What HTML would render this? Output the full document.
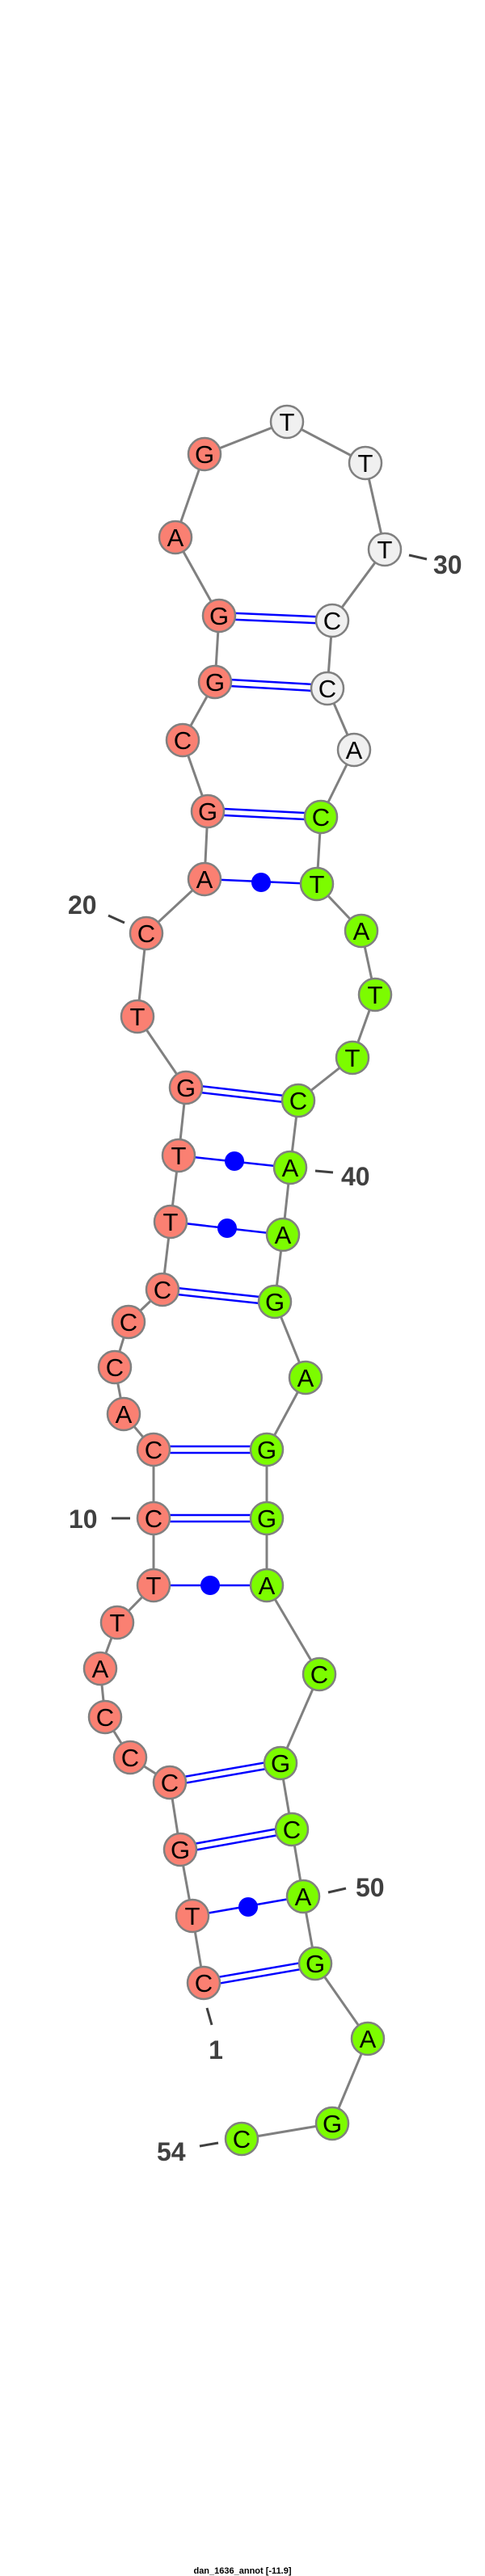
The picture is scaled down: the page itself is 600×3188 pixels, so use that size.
<!DOCTYPE html>
<html><head><meta charset="utf-8"><style>
html,body{margin:0;padding:0;background:#fff;}
svg{display:block;}
.n{stroke:#808080;stroke-width:2.5;}
.s{fill:#fa8072;}.w{fill:#f0f0f0;}.g{fill:#7cfc00;}
.t{font-family:"Liberation Sans",sans-serif;font-size:31px;text-anchor:middle;fill:#000;}
.l{font-family:"Liberation Sans",sans-serif;font-size:32px;font-weight:bold;fill:#404040;}
.bp{stroke:#0000ff;stroke-width:2.5;}
.tk{stroke:#404040;stroke-width:3;}
</style></head><body>
<svg width="600" height="3188" viewBox="0 0 600 3188" xmlns="http://www.w3.org/2000/svg">
<polyline fill="none" stroke="#808080" stroke-width="3" points="252,2454 238,2371 223,2289 210,2206 161,2175 130,2125 124,2065 145,2008 190,1962 190,1879 190,1794 153,1750 142,1692 159,1636 201,1596 211,1512 221,1430 230,1346 170,1258 181,1155 253,1088 257,1004 226,916 266,844 271,762 217,665 253,562 355,522 452,573 476,680 411,768 405,852 438,928 397,1011 392,1094 447,1152 464,1231 436,1309 369,1362 359,1445 350,1528 340,1611 378,1705 330,1794 330,1879 330,1962 395,2072 347,2182 361,2264 375,2347 390,2430 455,2523 411,2628 299,2647"/>
<g class="bp">
<line x1="252" y1="2450" x2="390" y2="2426"/><line x1="252" y1="2458" x2="390" y2="2434"/>
<line x1="223" y1="2285" x2="361" y2="2260"/><line x1="223" y1="2293" x2="361" y2="2268"/>
<line x1="210" y1="2202" x2="347" y2="2178"/><line x1="210" y1="2210" x2="347" y2="2186"/>
<line x1="190" y1="1875" x2="330" y2="1875"/><line x1="190" y1="1883" x2="330" y2="1883"/>
<line x1="190" y1="1790" x2="330" y2="1790"/><line x1="190" y1="1798" x2="330" y2="1798"/>
<line x1="201" y1="1592" x2="340" y2="1607"/><line x1="201" y1="1600" x2="340" y2="1615"/>
<line x1="230" y1="1342" x2="369" y2="1358"/><line x1="230" y1="1350" x2="369" y2="1366"/>
<line x1="257" y1="1000" x2="397" y2="1007"/><line x1="257" y1="1008" x2="397" y2="1015"/>
<line x1="266" y1="840" x2="405" y2="848"/><line x1="266" y1="848" x2="405" y2="856"/>
<line x1="271" y1="758" x2="411" y2="764"/><line x1="271" y1="766" x2="411" y2="772"/>
<line x1="238" y1="2371" x2="375" y2="2347"/>
<line x1="190" y1="1962" x2="330" y2="1962"/>
<line x1="211" y1="1512" x2="350" y2="1528"/>
<line x1="221" y1="1430" x2="359" y2="1445"/>
<line x1="253" y1="1088" x2="392" y2="1094"/>
</g>
<g fill="#0000ff">
<ellipse cx="307" cy="2360" rx="12" ry="12"/>
<ellipse cx="260" cy="1962" rx="12" ry="12"/>
<ellipse cx="281" cy="1520" rx="12" ry="12"/>
<ellipse cx="290" cy="1437" rx="12" ry="12"/>
<ellipse cx="323" cy="1092" rx="12" ry="12"/>
</g>
<g class="tk">
<line x1="256" y1="2485" x2="262" y2="2506"/>
<line x1="406" y1="2342" x2="428" y2="2337"/>
<line x1="247" y1="2656" x2="270" y2="2652"/>
<line x1="138" y1="1879" x2="161" y2="1879"/>
<line x1="390" y1="1449" x2="412" y2="1451"/>
<line x1="134" y1="1133" x2="154" y2="1142"/>
<line x1="506" y1="687" x2="528" y2="692"/>
</g>
<g class="l">
<text x="267" y="2548" text-anchor="middle">1</text>
<text x="440" y="2347">50</text>
<text x="194" y="2674">54</text>
<text x="85" y="1891">10</text>
<text x="422" y="1467">40</text>
<text x="84" y="1131">20</text>
<text x="536" y="710">30</text>
</g>
<g class="n">
<circle class="s" cx="252" cy="2454" r="20"/><circle class="s" cx="238" cy="2371" r="20"/><circle class="s" cx="223" cy="2289" r="20"/><circle class="s" cx="210" cy="2206" r="20"/><circle class="s" cx="161" cy="2175" r="20"/><circle class="s" cx="130" cy="2125" r="20"/><circle class="s" cx="124" cy="2065" r="20"/><circle class="s" cx="145" cy="2008" r="20"/><circle class="s" cx="190" cy="1962" r="20"/><circle class="s" cx="190" cy="1879" r="20"/><circle class="s" cx="190" cy="1794" r="20"/><circle class="s" cx="153" cy="1750" r="20"/><circle class="s" cx="142" cy="1692" r="20"/><circle class="s" cx="159" cy="1636" r="20"/><circle class="s" cx="201" cy="1596" r="20"/><circle class="s" cx="211" cy="1512" r="20"/><circle class="s" cx="221" cy="1430" r="20"/><circle class="s" cx="230" cy="1346" r="20"/><circle class="s" cx="170" cy="1258" r="20"/><circle class="s" cx="181" cy="1155" r="20"/><circle class="s" cx="253" cy="1088" r="20"/><circle class="s" cx="257" cy="1004" r="20"/><circle class="s" cx="226" cy="916" r="20"/><circle class="s" cx="266" cy="844" r="20"/><circle class="s" cx="271" cy="762" r="20"/><circle class="s" cx="217" cy="665" r="20"/><circle class="s" cx="253" cy="562" r="20"/>
<circle class="w" cx="355" cy="522" r="20"/><circle class="w" cx="452" cy="573" r="20"/><circle class="w" cx="476" cy="680" r="20"/><circle class="w" cx="411" cy="768" r="20"/><circle class="w" cx="405" cy="852" r="20"/><circle class="w" cx="438" cy="928" r="20"/>
<circle class="g" cx="397" cy="1011" r="20"/><circle class="g" cx="392" cy="1094" r="20"/><circle class="g" cx="447" cy="1152" r="20"/><circle class="g" cx="464" cy="1231" r="20"/><circle class="g" cx="436" cy="1309" r="20"/><circle class="g" cx="369" cy="1362" r="20"/><circle class="g" cx="359" cy="1445" r="20"/><circle class="g" cx="350" cy="1528" r="20"/><circle class="g" cx="340" cy="1611" r="20"/><circle class="g" cx="378" cy="1705" r="20"/><circle class="g" cx="330" cy="1794" r="20"/><circle class="g" cx="330" cy="1879" r="20"/><circle class="g" cx="330" cy="1962" r="20"/><circle class="g" cx="395" cy="2072" r="20"/><circle class="g" cx="347" cy="2182" r="20"/><circle class="g" cx="361" cy="2264" r="20"/><circle class="g" cx="375" cy="2347" r="20"/><circle class="g" cx="390" cy="2430" r="20"/><circle class="g" cx="455" cy="2523" r="20"/><circle class="g" cx="411" cy="2628" r="20"/><circle class="g" cx="299" cy="2647" r="20"/>
</g>
<g class="t">
<text x="252" y="2465">C</text><text x="238" y="2382">T</text><text x="223" y="2300">G</text><text x="210" y="2217">C</text><text x="161" y="2186">C</text><text x="130" y="2136">C</text><text x="124" y="2076">A</text><text x="145" y="2019">T</text><text x="190" y="1973">T</text><text x="190" y="1890">C</text><text x="190" y="1805">C</text><text x="153" y="1761">A</text><text x="142" y="1703">C</text><text x="159" y="1647">C</text><text x="201" y="1607">C</text><text x="211" y="1523">T</text><text x="221" y="1441">T</text><text x="230" y="1357">G</text><text x="170" y="1269">T</text><text x="181" y="1166">C</text><text x="253" y="1099">A</text><text x="257" y="1015">G</text><text x="226" y="927">C</text><text x="266" y="855">G</text><text x="271" y="773">G</text><text x="217" y="676">A</text><text x="253" y="573">G</text>
<text x="355" y="533">T</text><text x="452" y="584">T</text><text x="476" y="691">T</text><text x="411" y="779">C</text><text x="405" y="863">C</text><text x="438" y="939">A</text>
<text x="397" y="1022">C</text><text x="392" y="1105">T</text><text x="447" y="1163">A</text><text x="464" y="1242">T</text><text x="436" y="1320">T</text><text x="369" y="1373">C</text><text x="359" y="1456">A</text><text x="350" y="1539">A</text><text x="340" y="1622">G</text><text x="378" y="1716">A</text><text x="330" y="1805">G</text><text x="330" y="1890">G</text><text x="330" y="1973">A</text><text x="395" y="2083">C</text><text x="347" y="2193">G</text><text x="361" y="2275">C</text><text x="375" y="2358">A</text><text x="390" y="2441">G</text><text x="455" y="2534">A</text><text x="411" y="2639">G</text><text x="299" y="2658">C</text>
</g>
<text x="300" y="3185" text-anchor="middle" font-family="'Liberation Sans',sans-serif" font-size="11" font-weight="bold" fill="#000">dan_1636_annot [-11.9]</text>
</svg>
</body></html>
